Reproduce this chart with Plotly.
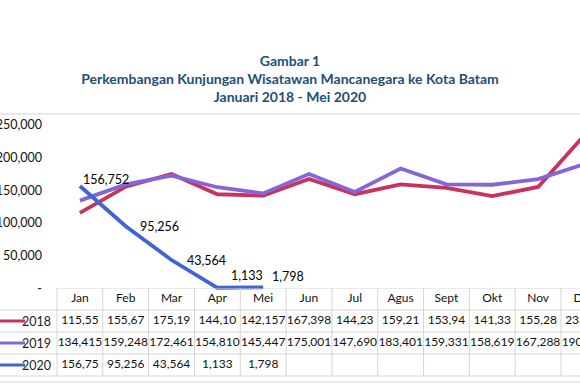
import plotly.graph_objects as go

months = ["Jan", "Feb", "Mar", "Apr", "Mei", "Jun", "Jul", "Agus", "Sept", "Okt", "Nov", "Des"]
years = ["2018", "2019", "2020"]

v2018 = [115550, 155670, 175190, 144100, 142157, 167398, 144230, 159210, 153940, 141330, 155280, 233390]
v2019 = [134415, 159248, 172461, 154810, 145447, 175001, 147690, 183401, 159331, 158619, 167288, 190150]
v2020 = [156752, 95256, 43564, 1133, 1798]

t2018 = ["115,55", "155,67", "175,19", "144,10", "142,157", "167,398", "144,23", "159,21", "153,94", "141,33", "155,28", "233,39"]
t2019 = ["134,415", "159,248", "172,461", "154,810", "145,447", "175,001", "147,690", "183,401", "159,331", "158,619", "167,288", "190,150"]
t2020 = ["156,75", "95,256", "43,564", "1,133", "1,798"]
labels2020 = ["156,752", "95,256", "43,564", "1,133", "1,798"]

ytick_vals = [0, 50000, 100000, 150000, 200000, 250000]
ytick_text = ["-", "50,000", "100,000", "150,000", "200,000", "250,000"]

colors = ["#C9325E", "#8566D6", "#3F64D6"]
FONT = "Lato"
GRID = "#D4D4D4"

W, H = 580, 386

fig = go.Figure()

series = [v2018, v2019, v2020]
for name, vals, col in zip(years, series, colors):
    fig.add_trace(go.Scatter(
        x=months[:len(vals)], y=vals, mode="lines", name=name,
        line=dict(color=col, width=3.8), xaxis="x", yaxis="y",
        showlegend=False, hoverinfo="skip"))

annotations = []
# data labels for 2020 (label offsets in px)
label_shift = [(1, 6), (12, 0), (13, 0), (12, 12), (7, 11)]
for m, v, lab, (dx, dy) in zip(months, v2020, labels2020, label_shift):
    annotations.append(dict(xref="x", yref="y", x=m, y=v, text=lab, showarrow=False,
                            xanchor="left", yanchor="middle", xshift=dx, yshift=dy,
                            font=dict(family=FONT, size=12.5, color="#000")))

# data table (rows on y2)
rows = [months, t2018, t2019, t2020]
for r, texts in enumerate(rows):
    fig.add_trace(go.Scatter(
        x=months[:len(texts)], y=[r] * len(texts), mode="text", text=texts,
        textposition="middle center",
        textfont=dict(family=FONT, size=12, color="#111"),
        xaxis="x", yaxis="y2", showlegend=False, hoverinfo="skip"))

shapes = []
n = len(months)
for i in range(n + 1):
    shapes.append(dict(type="line", xref="x", yref="y2", x0=i - 0.5, x1=i - 0.5,
                       y0=-0.5, y1=3.5, line=dict(color=GRID, width=1), layer="below"))
shapes.append(dict(type="line", xref="x", yref="y2", x0=-0.5, x1=n, y0=-0.5, y1=-0.5,
                   line=dict(color=GRID, width=1), layer="below"))
for yy in [0.5, 1.5, 2.5, 3.5, 3.77]:
    shapes.append(dict(type="line", xref="paper", yref="y2", x0=0, x1=1, y0=yy, y1=yy,
                       line=dict(color=GRID, width=1), layer="below"))
shapes.append(dict(type="line", xref="paper", yref="paper", x0=0, x1=1,
                   y0=1 - 114 / H, y1=1 - 114 / H, line=dict(color=GRID, width=1.2)))
for r, (name, col) in enumerate(zip(years, colors), start=1):
    shapes.append(dict(type="line", xref="paper", yref="y2", x0=0, x1=25 / W, y0=r, y1=r,
                       line=dict(color=col, width=3)))
    annotations.append(dict(xref="paper", yref="y2", x=53 / W, y=r, text=name,
                            showarrow=False, xanchor="right", yanchor="middle",
                            font=dict(family=FONT, size=12.5, color="#222")))

col_w = (561 - 57) / 11
jan_c = 57 + col_w / 2
x_range = [-jan_c / col_w, (W - jan_c) / col_w]

px_per = 163.5 / 250000
y0_px = 288.5
ybot_px, ytop_px = 292, 114
y_range = [-(ybot_px - y0_px) / px_per, (y0_px - ytop_px) / px_per]

fig.update_layout(
    width=W, height=H, margin=dict(l=0, r=0, t=0, b=0),
    paper_bgcolor="white", plot_bgcolor="rgba(0,0,0,0)",
    font=dict(family=FONT, color="#222"),
    title=dict(text="<b>Gambar 1<br>Perkembangan Kunjungan Wisatawan Mancanegara ke Kota Batam<br>Januari 2018 - Mei 2020</b>",
               x=0.5, xanchor="center", y=1 - 66 / H, yanchor="middle",
               font=dict(family=FONT, size=14, color="#1F4E79")),
    xaxis=dict(type="category", domain=[0, 1], range=x_range, showticklabels=False,
               showgrid=False, zeroline=False, showline=False, ticks="", automargin=False),
    yaxis=dict(domain=[1 - ybot_px / H, 1 - ytop_px / H], range=y_range,
               anchor="free", position=42 / W, tickvals=ytick_vals, ticktext=ytick_text,
               showgrid=False, zeroline=False, showline=False, ticks="",
               tickfont=dict(family=FONT, size=12.5, color="#111"), automargin=False),
    yaxis2=dict(domain=[0, 1 - 288 / H], range=[-0.5 + 98 / 22, -0.5], anchor="x",
                visible=False, automargin=False),
    shapes=shapes, annotations=annotations,
)

fig.write_html("out.html", config={"displayModeBar": False},
               post_script="document.body.style.margin='0';")
